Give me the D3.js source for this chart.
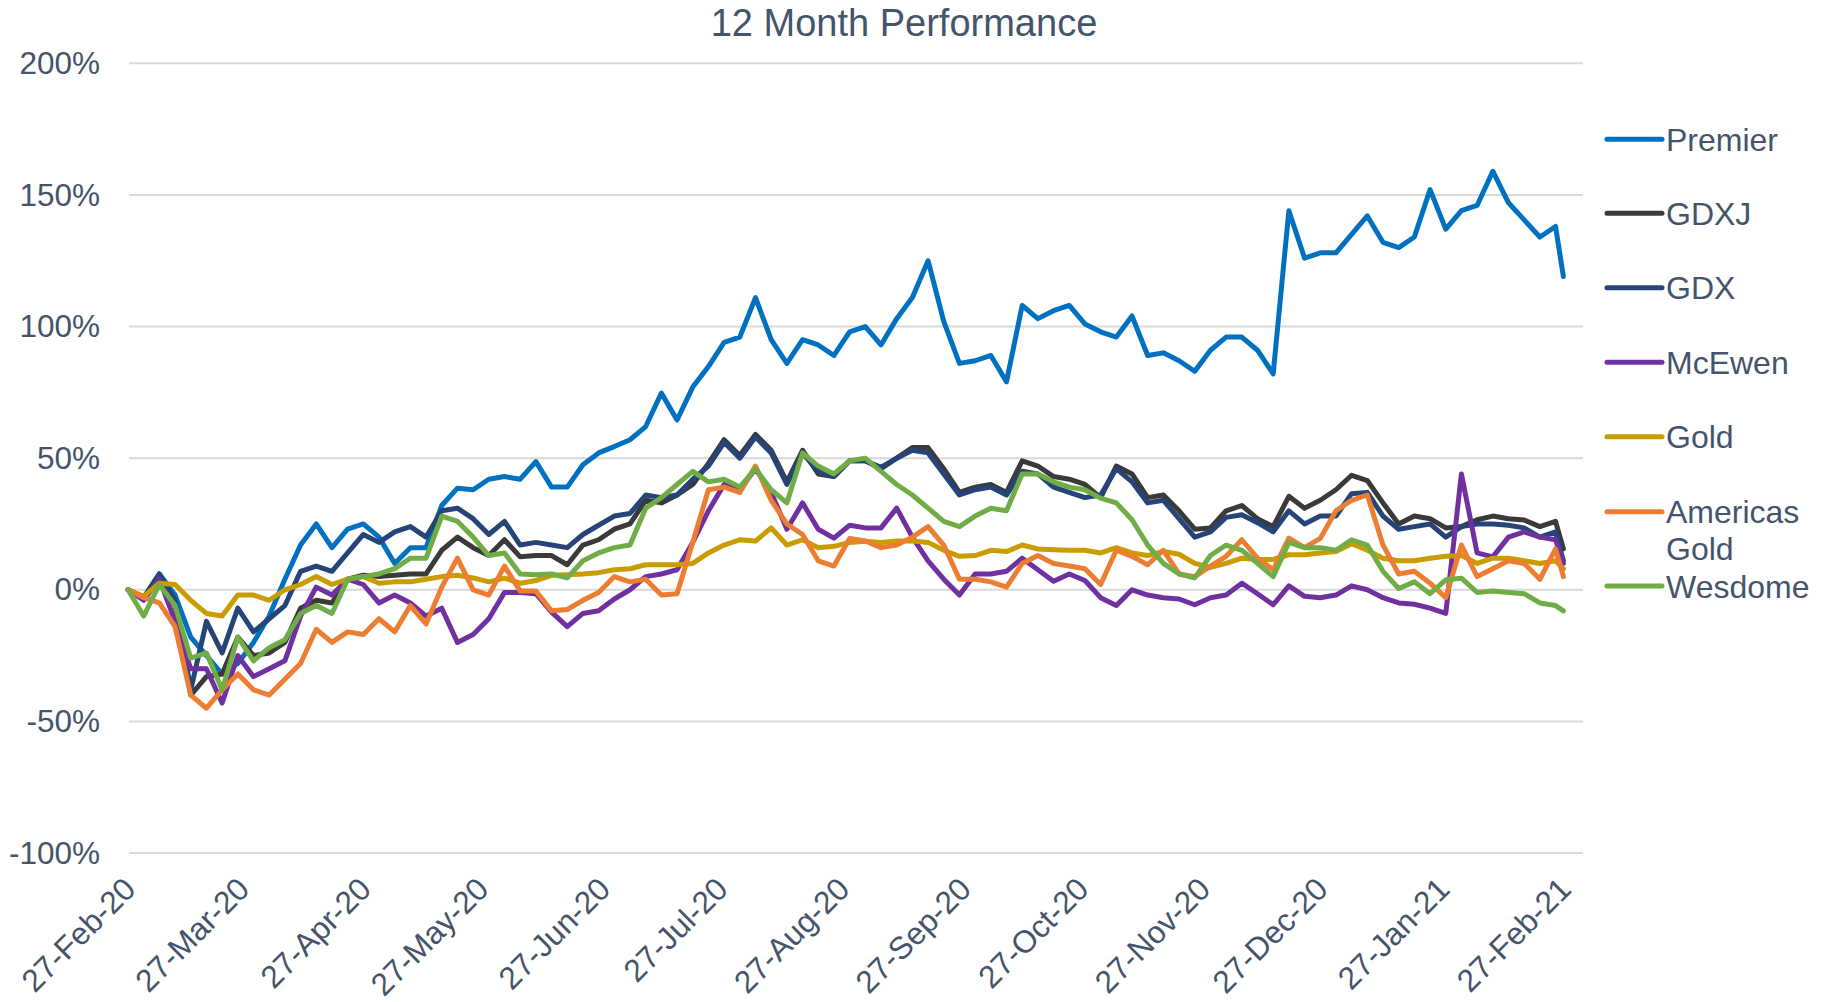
<!DOCTYPE html>
<html>
<head>
<meta charset="utf-8">
<script src="https://cdn.jsdelivr.net/npm/d3@7"></script>
<style>
  body { margin: 0; background: #fff; }
  svg { display: block; font-family: "Liberation Sans", Arial, sans-serif; }
</style>
</head>
<body>
<div id="chart"></div>
<script>
// 12 month performance chart

// dates (every 4 days, last point 27-Feb-21)
var dates = ["2020-02-27","2020-03-02","2020-03-06","2020-03-10","2020-03-14","2020-03-18","2020-03-22","2020-03-26","2020-03-30",
  "2020-04-03","2020-04-07","2020-04-11","2020-04-15","2020-04-19","2020-04-23","2020-04-27","2020-05-01","2020-05-05","2020-05-09",
  "2020-05-13","2020-05-17","2020-05-21","2020-05-25","2020-05-29","2020-06-02","2020-06-06","2020-06-10","2020-06-14","2020-06-18",
  "2020-06-22","2020-06-26","2020-06-30","2020-07-04","2020-07-08","2020-07-12","2020-07-16","2020-07-20","2020-07-24","2020-07-28",
  "2020-08-01","2020-08-05","2020-08-09","2020-08-13","2020-08-17","2020-08-21","2020-08-25","2020-08-29","2020-09-02","2020-09-06",
  "2020-09-10","2020-09-14","2020-09-18","2020-09-22","2020-09-26","2020-09-30","2020-10-04","2020-10-08","2020-10-12","2020-10-16",
  "2020-10-20","2020-10-24","2020-10-28","2020-11-01","2020-11-05","2020-11-09","2020-11-13","2020-11-17","2020-11-21","2020-11-25",
  "2020-11-29","2020-12-03","2020-12-07","2020-12-11","2020-12-15","2020-12-19","2020-12-23","2020-12-27","2020-12-31","2021-01-04",
  "2021-01-08","2021-01-12","2021-01-16","2021-01-20","2021-01-24","2021-01-28","2021-02-01","2021-02-05","2021-02-09","2021-02-13",
  "2021-02-17","2021-02-21","2021-02-25","2021-02-27"];

// series values, % change
var premier = [0,-3,6,-2,-18,-25,-32,-28,-20,-10,4,17,25,16,23,25,20,10,16,16,32,38.6,38,42,43,42,48.7,39,39,47.5,52,54.4,57,62,74.7,64.5,77,84.8,94,
  96,111,95,86,95,93,89,98,100,93,103,111,125,102,86,87,89,79,108,103,106,108,101,98,96,104,89,90,87,83,91,96,96,91,82,144,126,128,128,
  135,142,132,130,134,152,137,144,146,159,147,140.5,134,138,119];
var gdxj = [0,-3,5,-6,-40,-33,-32,-18,-25,-24,-20,-7,-4,-5,4,5.5,5,5.5,6,6,15,20,16,13,19,12.5,13,13,9.5,17,19,23,25,34,33,36,40,48,57,
  51,59,53,41,53,44,43,49,49,46,50,54,54,46,37,39,40,37,49,47,43,42,40,35,47,44,35,36,30,23,23.5,30,32,27,24,35.5,31,34,38,
  43.5,41.5,33,25,28,27,23.5,24,26.6,28,27,26.5,24,26,15.5];
var gdx = [0,-3,6,-4,-38,-12,-24,-7,-16,-11,-6,7,9,7,14,21,18,22,24,20,30,31,27,21,26,17,18,17,16,21,24.5,28,29,36,35,36,42,47,56,
  50,58,52,40,52,45,43,49,49,46.5,50,53,52,44,36,38,39,36,45,44,39,37,35,36,46,41,33,34,27,20,22,27.5,28.5,25.5,22,30,25,28,28,
  36.5,37,28,23,24,25,20,24,25,25,24.5,23.5,20,22,11];
var mcewen = [0,-4,4,-12,-30,-30,-43,-25,-33,-30,-27,-10,1,-2,4,2,-5,-2,-5,-10,-7,-20,-17,-11,-1,-1,-1.5,-8.5,-14,-9,-8,-3.5,0,5,6,7.6,18,30,40,
  38,46,37,23,33,23,19.6,24.5,23.5,23.5,31,20,11,4,-2,6,6,7,12,7.6,3.2,6,3.5,-3,-6,0,-2,-3,-3.5,-5.7,-3,-2,2.5,-1.5,-5.7,1.5,-2.5,-3,-2,
  1.5,0,-3,-5,-5.5,-7,-9,44,14,12.5,20,22,20,19,10];
var gold = [0,-2.5,2.5,2,-4,-9,-10,-2,-2,-4,0,2,5,2,4,5,2.5,3,3,4,5,5.5,4.5,3,4.4,2.5,3.5,5.5,5.7,6,6.5,7.6,8,9.5,9.5,9.5,10,14,17,
  19,18.5,23.5,17,19,16,16.5,18,18.4,18,18.5,18.5,18,15,12.7,13,15,14.5,17,15.5,15.2,15,15,14,16,14,13,14.6,13.5,10,8.5,10,12,11.5,11.5,13.3,13.3,14,14.5,
  17.5,15,12,11,11,12,12.7,13,10,12,12,11,10,11,8];
var americas = [0,-3,-5,-14,-40,-45,-38,-32,-38,-40,-34,-28,-15,-20,-16,-17,-11,-16,-6,-13,1,12,0,-2,9,-0.5,-0.5,-8,-7.5,-4,-1,5,3,4,-2,-1.5,18,38,39,
  37,47,34,25,21,11,9,19.5,18.5,16,17,20,24,17,4,4,3,1,10,13,10,9,8,2,15,12.7,9.5,15,6,5,9,12.7,19,12,7.6,19.6,16,19.5,30,
  34,36,17,6,7,2.5,-3,17,5,8,11,10,4,15.5,5];
var wesdome = [0,-10,2,-6,-26,-24,-38,-18,-27,-22,-19,-9,-6,-9,4,5,6,8,12,12,28,26,20,13,14,6,5.7,6,4.5,11,14,16,17,31,35,40,45,41,42,
  39,46,38,33,52,47,44,49,50,45,40,36,31,26,24,28,31,30,44,44,41,39,38,34.8,33,26.6,17,10,6,4.5,13,17,15,10,5,18,16,16,15,
  19,17,7,0.5,3,-1.5,3.8,4.4,-1,-0.5,-1,-1.5,-5,-6,-8];

var seriesNames = ["Premier", "GDXJ", "GDX", "McEwen", "Gold", "Americas Gold", "Wesdome"];
var seriesValues = [premier, gdxj, gdx, mcewen, gold, americas, wesdome];
var colors = ["#0070C0", "#3A3A3A", "#264478", "#7030A0", "#C99C00", "#ED7D31", "#70AD47"];

var tickDates = ["2020-02-27","2020-03-27","2020-04-27","2020-05-27","2020-06-27","2020-07-27","2020-08-27",
  "2020-09-27","2020-10-27","2020-11-27","2020-12-27","2021-01-27","2021-02-27"];
var yTicks = [-100, -50, 0, 50, 100, 150, 200];

var W = 1825, H = 1002;
var textColor = "#44546A";
var parse = d3.timeParse("%Y-%m-%d");

var svg = d3.select("#chart").append("svg")
  .attr("width", W)
  .attr("height", H);

var x = d3.scaleTime()
  .domain([parse("2020-02-27"), parse("2021-03-04")])
  .range([128, 1583]);
var y = d3.scaleLinear()
  .domain([-100, 200])
  .range([853, 63.3]);

// gridlines
svg.append("g")
  .selectAll("line")
  .data(yTicks)
  .enter().append("line")
  .attr("x1", 129)
  .attr("x2", 1583)
  .attr("y1", function(d) { return y(d); })
  .attr("y2", function(d) { return y(d); })
  .attr("stroke", "#D9D9D9")
  .attr("stroke-width", 2);

// y axis labels
var yAxis = svg.append("g")
  .attr("transform", "translate(100,0)")
  .call(d3.axisLeft(y).tickValues(yTicks).tickSize(0).tickPadding(0)
    .tickFormat(function(d) { return d + "%"; }));
yAxis.select(".domain").remove();
yAxis.selectAll("text")
  .attr("fill", textColor)
  .style("font-size", "31.5px")
  .style("font-family", "'Liberation Sans', Arial, sans-serif");

// x axis labels
var xAxis = svg.append("g")
  .attr("transform", "translate(0,853)")
  .call(d3.axisBottom(x).tickValues(tickDates.map(parse)).tickSize(0)
    .tickFormat(d3.timeFormat("%d-%b-%y")));
xAxis.select(".domain").remove();
xAxis.selectAll("text")
  .attr("x", 0)
  .attr("y", 0)
  .attr("dy", 0)
  .attr("text-anchor", "end")
  .attr("transform", "translate(9,38) rotate(-45)")
  .attr("fill", textColor)
  .style("font-size", "31.5px")
  .style("font-family", "'Liberation Sans', Arial, sans-serif");

// lines
var line = d3.line()
  .x(function(d, i) { return x(parse(dates[i])); })
  .y(function(d) { return y(d); });

svg.append("g")
  .selectAll("path")
  .data(seriesValues)
  .enter().append("path")
  .attr("d", function(d) { return line(d); })
  .attr("fill", "none")
  .attr("stroke", function(d, i) { return colors[i]; })
  .attr("stroke-width", 5)
  .attr("stroke-linejoin", "round")
  .attr("stroke-linecap", "round");

// title
svg.append("text")
  .attr("x", 904)
  .attr("y", 36)
  .attr("text-anchor", "middle")
  .attr("fill", textColor)
  .style("font-size", "38px")
  .text("12 Month Performance");

// legend
var legendY = [139.3, 213.3, 287.7, 362.3, 436.7, 511.7, 586];
var legend = svg.append("g");
seriesNames.forEach(function(name, i) {
  legend.append("line")
    .attr("x1", 1607).attr("x2", 1662)
    .attr("y1", legendY[i]).attr("y2", legendY[i])
    .attr("stroke", colors[i])
    .attr("stroke-width", 5)
    .attr("stroke-linecap", "round");
  var words = name === "Americas Gold" ? ["Americas", "Gold"] : [name];
  words.forEach(function(w, j) {
    legend.append("text")
      .attr("x", 1666)
      .attr("y", legendY[i] + j * 36.5)
      .attr("dy", "0.36em")
      .attr("fill", textColor)
      .style("font-size", "32px")
      .text(w);
  });
});
</script>
</body>
</html>
